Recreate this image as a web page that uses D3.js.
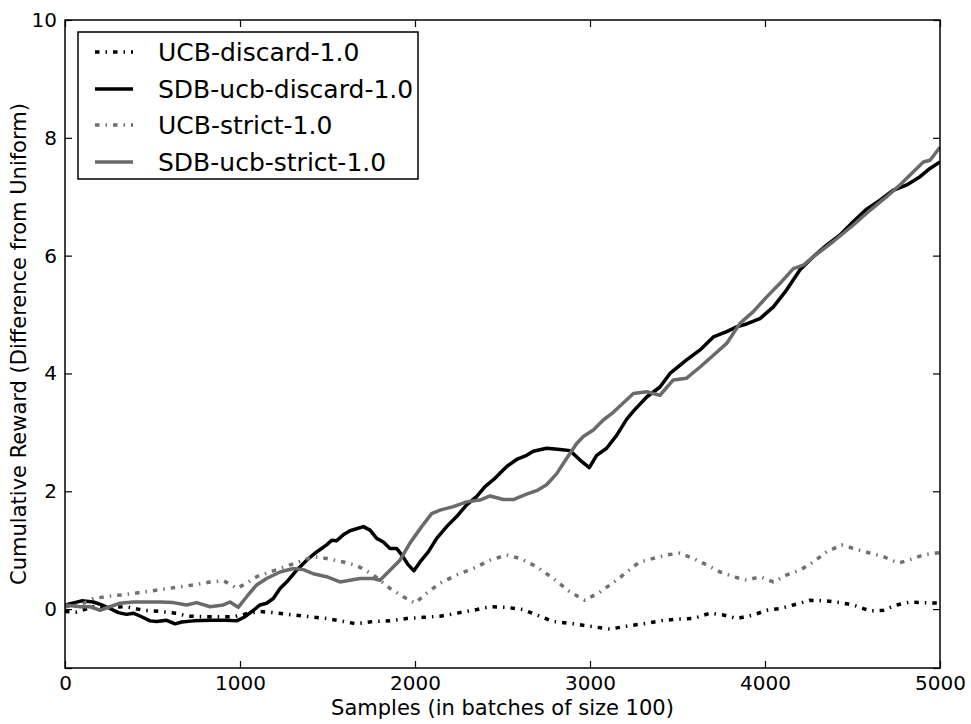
<!DOCTYPE html>
<html>
<head>
<meta charset="utf-8">
<script src="https://cdn.jsdelivr.net/npm/d3@7"></script>
<style>
  html, body { margin: 0; padding: 0; background: #fff; }
  svg { display: block; }
  text { font-family: "DejaVu Sans", sans-serif; fill: #000; }
</style>
</head>
<body>
<svg id="chart" width="971" height="724"></svg>
<script>
// ---- data ----
const seriesNames = ["UCB-discard-1.0", "SDB-ucb-discard-1.0", "UCB-strict-1.0", "SDB-ucb-strict-1.0"];

const ucbDiscardX = [0, 67, 162, 257, 352, 448, 543, 638, 695, 829, 962, 1038, 1114, 1190, 1305, 1400, 1495, 1590, 1667, 1762, 1857, 1952, 2048, 2143, 2238, 2333, 2429, 2524, 2619, 2695, 2790, 2905, 3019, 3114, 3209, 3324, 3419, 3514, 3590, 3686, 3762, 3838, 3933, 4010, 4086, 4162, 4257, 4352, 4429, 4505, 4600, 4676, 4752, 4829, 4905, 5000];
const ucbDiscardY = [-0.04, -0.05, 0.04, 0.03, 0.04, -0.02, -0.04, -0.07, -0.12, -0.13, -0.13, -0.08, -0.04, -0.06, -0.1, -0.13, -0.16, -0.21, -0.25, -0.21, -0.2, -0.16, -0.14, -0.12, -0.07, -0.02, 0.04, 0.03, -0.01, -0.1, -0.21, -0.25, -0.3, -0.34, -0.29, -0.24, -0.19, -0.17, -0.16, -0.07, -0.1, -0.16, -0.1, -0.02, 0.01, 0.07, 0.15, 0.14, 0.11, 0.07, -0.03, -0.02, 0.07, 0.12, 0.11, 0.1];

const sdbDiscardX = [0, 95, 162, 210, 257, 305, 352, 390, 438, 486, 524, 581, 629, 667, 733, 829, 924, 981, 1029, 1076, 1114, 1152, 1190, 1229, 1276, 1324, 1381, 1438, 1495, 1524, 1552, 1590, 1629, 1705, 1743, 1781, 1819, 1857, 1895, 1924, 1962, 1994, 2029, 2076, 2124, 2181, 2238, 2295, 2352, 2400, 2457, 2524, 2581, 2638, 2676, 2752, 2829, 2886, 2943, 2996, 3038, 3095, 3152, 3209, 3248, 3324, 3400, 3457, 3552, 3629, 3705, 3781, 3838, 3895, 3971, 4048, 4124, 4200, 4276, 4352, 4429, 4505, 4581, 4657, 4733, 4810, 4886, 4943, 5000];
const sdbDiscardY = [0.07, 0.14, 0.12, 0.07, 0.01, -0.06, -0.09, -0.07, -0.13, -0.2, -0.21, -0.19, -0.25, -0.22, -0.2, -0.19, -0.19, -0.2, -0.13, -0.02, 0.07, 0.1, 0.18, 0.35, 0.49, 0.66, 0.83, 0.97, 1.09, 1.17, 1.16, 1.26, 1.33, 1.4, 1.34, 1.2, 1.14, 1.03, 1.03, 0.92, 0.75, 0.65, 0.8, 0.97, 1.2, 1.4, 1.57, 1.77, 1.91, 2.08, 2.22, 2.42, 2.54, 2.61, 2.68, 2.73, 2.71, 2.69, 2.53, 2.4, 2.61, 2.73, 2.95, 3.22, 3.36, 3.6, 3.77, 4.0, 4.23, 4.4, 4.62, 4.71, 4.79, 4.84, 4.93, 5.13, 5.42, 5.76, 5.98, 6.18, 6.35, 6.58, 6.79, 6.94, 7.11, 7.2, 7.34, 7.48, 7.59];

const ucbStrictX = [0, 86, 162, 257, 352, 448, 543, 638, 733, 829, 905, 952, 981, 1038, 1095, 1190, 1286, 1362, 1419, 1495, 1590, 1667, 1762, 1857, 1933, 2000, 2067, 2143, 2238, 2333, 2429, 2524, 2600, 2695, 2790, 2886, 2971, 3057, 3152, 3248, 3286, 3362, 3438, 3514, 3590, 3667, 3743, 3819, 3895, 3971, 4048, 4124, 4200, 4276, 4352, 4438, 4505, 4600, 4676, 4762, 4829, 4905, 5000];
const ucbStrictY = [0.04, 0.07, 0.18, 0.22, 0.25, 0.29, 0.33, 0.37, 0.41, 0.46, 0.48, 0.41, 0.35, 0.44, 0.55, 0.65, 0.75, 0.83, 0.89, 0.86, 0.8, 0.74, 0.58, 0.35, 0.21, 0.1, 0.27, 0.44, 0.58, 0.69, 0.83, 0.92, 0.86, 0.72, 0.52, 0.29, 0.15, 0.29, 0.49, 0.72, 0.8, 0.86, 0.92, 0.95, 0.86, 0.75, 0.63, 0.55, 0.49, 0.55, 0.46, 0.58, 0.66, 0.8, 0.97, 1.09, 1.03, 0.95, 0.89, 0.78, 0.84, 0.92, 0.96];

const sdbStrictX = [0, 86, 143, 200, 257, 314, 390, 467, 543, 619, 695, 752, 829, 905, 943, 990, 1038, 1095, 1152, 1229, 1305, 1362, 1419, 1495, 1571, 1686, 1762, 1800, 1857, 1914, 1971, 2038, 2095, 2143, 2219, 2295, 2371, 2429, 2505, 2562, 2638, 2695, 2752, 2810, 2867, 2924, 2962, 3019, 3076, 3133, 3190, 3248, 3324, 3400, 3476, 3552, 3629, 3705, 3781, 3857, 3933, 4010, 4086, 4162, 4219, 4276, 4390, 4505, 4600, 4695, 4771, 4829, 4905, 4943, 5000];
const sdbStrictY = [0.07, 0.04, 0.04, -0.02, 0.04, 0.1, 0.12, 0.12, 0.12, 0.11, 0.07, 0.11, 0.04, 0.07, 0.12, 0.03, 0.21, 0.41, 0.52, 0.63, 0.69, 0.67, 0.6, 0.55, 0.46, 0.52, 0.52, 0.49, 0.66, 0.83, 1.12, 1.4, 1.62, 1.68, 1.74, 1.82, 1.85, 1.92, 1.86, 1.86, 1.95, 2.01, 2.11, 2.3, 2.56, 2.81, 2.93, 3.04, 3.21, 3.34, 3.5, 3.66, 3.69, 3.63, 3.89, 3.92, 4.11, 4.31, 4.51, 4.85, 5.05, 5.3, 5.53, 5.78, 5.84, 5.98, 6.24, 6.52, 6.77, 7.0, 7.2, 7.37, 7.59, 7.62, 7.84];

const xTicks = [0, 1000, 2000, 3000, 4000, 5000];
const yTicks = [-1, 0, 2, 4, 6, 8, 10];
const yTickLabels = ["", "0", "2", "4", "6", "8", "10"];
const xLabel = "Samples (in batches of size 100)";
const yLabel = "Cumulative Reward (Difference from Uniform)";

// ---- layout ----
const svg = d3.select("#chart");
const mLeft = 65, mRight = 940, mTop = 20, mBottom = 668;
const x = d3.scaleLinear().domain([0, 5000]).range([mLeft, mRight]);
const y = d3.scaleLinear().domain([-1, 10]).range([mBottom, mTop]);

const styles = [
  { color: "#000000", dash: "4.5,6,1.5,6", width: 3.5 },
  { color: "#000000", dash: null, width: 3.5 },
  { color: "#707070", dash: "4.5,6,1.5,6", width: 3.5 },
  { color: "#6a6a6a", dash: null, width: 3.5 }
];

const datasets = [
  d3.zip(ucbDiscardX, ucbDiscardY),
  d3.zip(sdbDiscardX, sdbDiscardY),
  d3.zip(ucbStrictX, ucbStrictY),
  d3.zip(sdbStrictX, sdbStrictY)
];

svg.append("defs").append("clipPath").attr("id", "clip")
  .append("rect").attr("x", mLeft).attr("y", mTop)
  .attr("width", mRight - mLeft).attr("height", mBottom - mTop);

const line = d3.line().x(d => x(d[0])).y(d => y(d[1]));

const gLines = svg.append("g").attr("clip-path", "url(#clip)");
datasets.forEach((data, i) => {
  const s = styles[i];
  gLines.append("path")
    .datum(data)
    .attr("d", line)
    .attr("fill", "none")
    .attr("stroke", s.color)
    .attr("stroke-width", s.width)
    .attr("stroke-linejoin", "round")
    .attr("stroke-dasharray", s.dash);
});

// ---- axes (ticks inside, on all four sides) ----
const tickLen = 7;
const xAxisB = d3.axisBottom(x).tickValues(xTicks).tickSizeInner(-tickLen).tickSizeOuter(0).tickPadding(8).tickFormat(d => d);
const xAxisT = d3.axisTop(x).tickValues(xTicks).tickSizeInner(-tickLen).tickSizeOuter(0).tickFormat("");
const yAxisL = d3.axisLeft(y).tickValues(yTicks).tickSizeInner(-tickLen).tickSizeOuter(0).tickPadding(8)
  .tickFormat((d, i) => yTickLabels[i]);
const yAxisR = d3.axisRight(y).tickValues(yTicks).tickSizeInner(-tickLen).tickSizeOuter(0).tickFormat("");

function styleAxis(g) {
  g.select(".domain").remove();
  g.selectAll(".tick line").attr("stroke", "#000").attr("stroke-width", 1.2);
  g.selectAll(".tick text").attr("font-family", "DejaVu Sans").attr("font-size", 20).attr("fill", "#000");
}
svg.append("g").attr("transform", `translate(0,${mBottom})`).call(xAxisB).call(styleAxis);
svg.append("g").attr("transform", `translate(0,${mTop})`).call(xAxisT).call(styleAxis);
svg.append("g").attr("transform", `translate(${mLeft},0)`).call(yAxisL).call(styleAxis);
svg.append("g").attr("transform", `translate(${mRight},0)`).call(yAxisR).call(styleAxis);

// frame
svg.append("rect").attr("x", mLeft).attr("y", mTop)
  .attr("width", mRight - mLeft).attr("height", mBottom - mTop)
  .attr("fill", "none").attr("stroke", "#000").attr("stroke-width", 1.5);

// axis labels
svg.append("text").attr("x", (mLeft + mRight) / 2).attr("y", 715)
  .attr("text-anchor", "middle").attr("font-size", 21).text(xLabel);
svg.append("text")
  .attr("transform", `translate(26,${(mTop + mBottom) / 2}) rotate(-90)`)
  .attr("text-anchor", "middle").attr("font-size", 21).text(yLabel);

// ---- legend ----
const lg = svg.append("g");
const lgX = 78, lgY = 32, lgW = 340, lgH = 147;
lg.append("rect").attr("x", lgX).attr("y", lgY).attr("width", lgW).attr("height", lgH)
  .attr("fill", "#fff").attr("stroke", "#000").attr("stroke-width", 1.5);
const rowY = [52, 89, 125, 162];
seriesNames.forEach((name, i) => {
  const s = styles[i];
  lg.append("line").attr("x1", 95).attr("x2", 133).attr("y1", rowY[i]).attr("y2", rowY[i])
    .attr("stroke", s.color).attr("stroke-width", s.width).attr("stroke-dasharray", s.dash);
  lg.append("text").attr("x", 158).attr("y", rowY[i]).attr("dy", "0.36em")
    .attr("font-size", 25).text(name);
});
</script>
</body>
</html>
